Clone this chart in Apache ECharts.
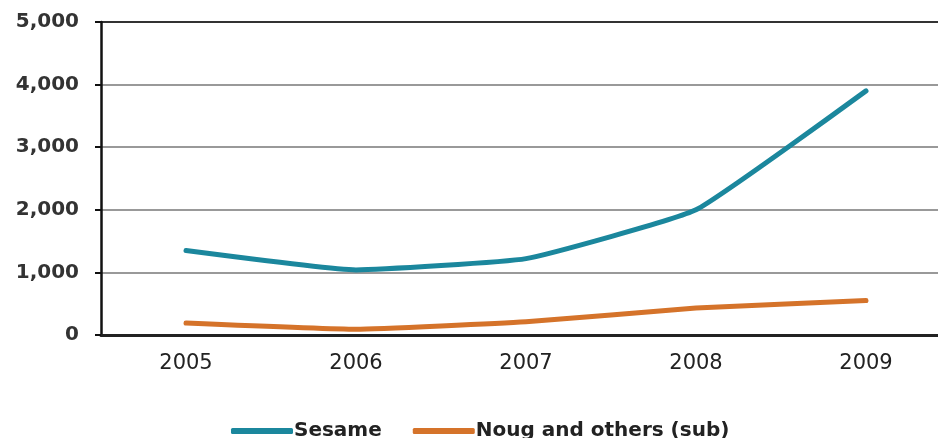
<!DOCTYPE html>
<html>
<head>
<meta charset="utf-8">
<script src="https://cdn.jsdelivr.net/npm/echarts@6/dist/echarts.min.js"></script>
<style>
  html, body { margin: 0; padding: 0; background: #fff; overflow: hidden; }
  #chart { width: 951px; height: 438px; }
</style>
</head>
<body>
<div id="chart"></div>
<script>
// Production by year
const years = ['2005', '2006', '2007', '2008', '2009'];
const sesame = [1350, 1040, 1220, 2000, 3900];
const noug = [190, 90, 210, 430, 550];
const seriesNames = ['Sesame', 'Noug and others (sub)'];

const chart = echarts.init(document.getElementById('chart'));
const font = 'DejaVu Sans';

chart.setOption({
  animation: false,
  backgroundColor: '#ffffff',
  // plot area runs slightly past the right edge of the visible window
  grid: { left: 101, right: 0, top: 22, bottom: 103 },
  legend: {
    bottom: -8,
    left: 226,
    itemWidth: 62,
    itemHeight: 6,
    itemGap: 31,
    icon: 'roundRect',
    textStyle: { fontFamily: font, fontSize: 20, fontWeight: 'bold', color: '#222', padding: [0, 0, 0, -4] },
    data: seriesNames
  },
  xAxis: {
    type: 'category',
    data: years,
    boundaryGap: true,
    axisLine: { lineStyle: { color: '#222', width: 3 } },
    axisTick: { show: false },
    axisLabel: { fontFamily: font, fontSize: 21, color: '#222', margin: 18 }
  },
  yAxis: {
    type: 'value',
    min: 0,
    max: 5000,
    interval: 1000,
    axisLine: { show: true, lineStyle: { color: '#111', width: 2.5 } },
    axisTick: { show: true, length: 6, lineStyle: { color: '#111', width: 2 } },
    axisLabel: {
      fontFamily: font, fontSize: 20, fontWeight: 'bold', color: '#333', margin: 22,
      formatter: v => v.toLocaleString('en-US')
    },
    splitLine: { lineStyle: { color: ['#222', '#999', '#999', '#999', '#999', '#333'], width: 2 } }
  },
  series: [
    {
      name: seriesNames[0],
      type: 'line',
      data: sesame,
      smooth: 0.12,
      showSymbol: false,
      color: '#1b879d',
      lineStyle: { width: 5, color: '#1b879d', cap: 'round', join: 'round' }
    },
    {
      name: seriesNames[1],
      type: 'line',
      data: noug,
      smooth: 0.12,
      showSymbol: false,
      color: '#d5732a',
      lineStyle: { width: 5, color: '#d5732a', cap: 'round', join: 'round' }
    }
  ]
});
</script>
</body>
</html>
